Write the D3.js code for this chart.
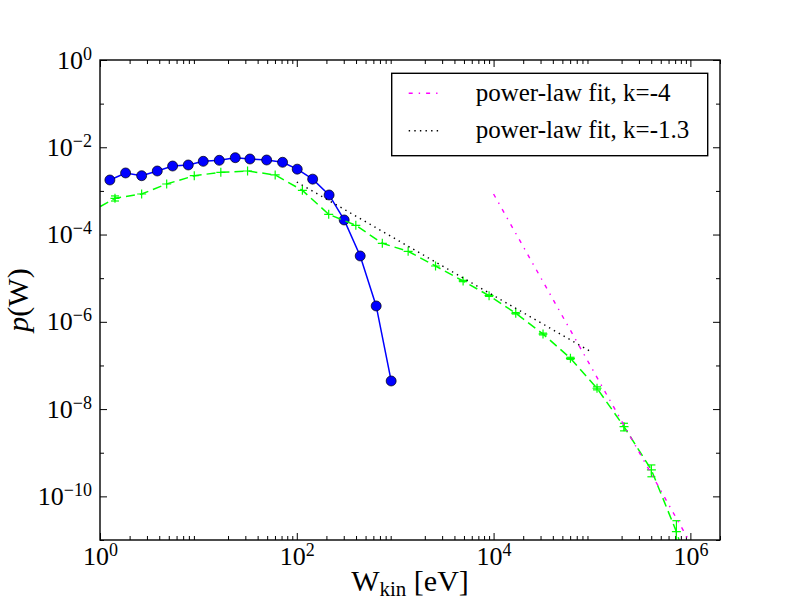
<!DOCTYPE html>
<html>
<head>
<meta charset="utf-8">
<script src="https://cdnjs.cloudflare.com/ajax/libs/d3/7.8.5/d3.min.js"></script>
<style>
body { margin: 0; background: #fff; }
text { font-family: "Liberation Serif", "DejaVu Serif", serif; fill: #000; }
</style>
</head>
<body>
<div id="chart-area"></div>
<script>
// blue curve (circles)
var blueW = [1.26, 1.82, 2.65, 3.82, 5.47, 7.89, 11.2, 16.3, 23.7, 33.4, 49.4, 71.7, 101, 145, 213, 303, 441, 641, 910];
var blueP = [1.78e-3, 2.58e-3, 2.23e-3, 2.86e-3, 3.72e-3, 3.93e-3, 4.77e-3, 5.03e-3, 5.77e-3, 5.39e-3, 5.11e-3, 4.53e-3,
	3.15e-3, 1.86e-3, 8.07e-4, 2.16e-4, 3.23e-5, 2.31e-6, 4.41e-8];

// green curve (+ markers, error bars)
var greenW = [0.757, 1.42, 2.65, 4.76, 9.08, 16.9, 31.6, 60.3, 114, 211, 398, 740, 1354, 2570, 4900, 9000,
	16800, 31800, 60400, 112500, 211700, 401600, 721000, 1360000];
var greenP = [3.05e-4, 6.77e-4, 8.5e-4, 1.44e-3, 2.23e-3, 2.67e-3, 2.86e-3, 2.32e-3, 1.03e-3, 2.91e-4, 1.63e-4, 6.3e-5,
	4.13e-5, 1.90e-5, 8.62e-6, 3.97e-6, 1.57e-6, 5.26e-7, 1.46e-7, 3.0e-8, 3.95e-9, 4.03e-10, 1.55e-11, 1.9e-13];
var greenErr = [0, 9e-5, 0, 0, 0, 0, 0, 0, 0, 0, 0, 0,
	0, 0, 3e-7, 1.5e-7, 6e-8, 2.5e-8, 8e-9, 2.4e-9, 7.8e-10, 1.22e-10, 1.22e-11, 0];

// power-law fits (end points)
var fit4W = [1e4, 1e6];
var fit4P = [8.5e-4, 8.5e-12];
var fit13W = [100, 1e5];
var fit13P = [1.6e-3, 2.0e-7];

var legendLabels = ["power-law fit, k=-4", "power-law fit, k=-1.3"];

var xMajor = [1, 1e2, 1e4, 1e6];
var xExp = ["0", "2", "4", "6"];
var yMajor = [1, 1e-2, 1e-4, 1e-6, 1e-8, 1e-10];
var yExp = ["0", "\u22122", "\u22124", "\u22126", "\u22128", "\u221210"];

var margin = { top: 60, right: 80, bottom: 60, left: 100 };
var width = 800 - margin.left - margin.right,
	height = 600 - margin.top - margin.bottom;

var svg = d3.select("#chart-area")
	.append("svg")
		.attr("width", 800)
		.attr("height", 600);

var g = svg.append("g")
	.attr("transform", "translate(" + margin.left + ", " + margin.top + ")");

var x = d3.scaleLog().domain([1, 2e6]).range([0, width]);
var y = d3.scaleLog().domain([1e-11, 1]).range([height, 0]);

// minor ticks
var xMinor = [];
for (var e = 0; e <= 6; e++) {
	for (var s = 2; s <= 9; s++) {
		if (s * Math.pow(10, e) <= 2e6) xMinor.push(s * Math.pow(10, e));
	}
}
var yMinor = [1e-1, 1e-3, 1e-5, 1e-7, 1e-9, 1e-11];

svg.append("clipPath")
	.attr("id", "clip")
	.append("rect")
		.attr("width", width)
		.attr("height", height);

function axisStyle(sel) {
	sel.select(".domain").remove();
	sel.selectAll("line").attr("stroke", "#000").attr("stroke-width", 1);
}

g.append("g").attr("transform", "translate(0," + height + ")")
	.call(d3.axisBottom(x).tickValues(xMinor).tickSize(-4).tickFormat(""))
	.call(axisStyle);
g.append("g")
	.call(d3.axisTop(x).tickValues(xMinor).tickSize(-4).tickFormat(""))
	.call(axisStyle);
g.append("g")
	.call(d3.axisLeft(y).tickValues(yMinor).tickSize(-4).tickFormat(""))
	.call(axisStyle);
g.append("g").attr("transform", "translate(" + width + ",0)")
	.call(d3.axisRight(y).tickValues(yMinor).tickSize(-4).tickFormat(""))
	.call(axisStyle);

var xAxis = g.append("g").attr("transform", "translate(0," + height + ")")
	.call(d3.axisBottom(x).tickValues(xMajor).tickSize(-7).tickFormat(""))
	.call(axisStyle);
g.append("g")
	.call(d3.axisTop(x).tickValues(xMajor).tickSize(-7).tickFormat(""))
	.call(axisStyle);
var yAxis = g.append("g")
	.call(d3.axisLeft(y).tickValues(yMajor).tickSize(-7).tickFormat(""))
	.call(axisStyle);
g.append("g").attr("transform", "translate(" + width + ",0)")
	.call(d3.axisRight(y).tickValues(yMajor).tickSize(-7).tickFormat(""))
	.call(axisStyle);

// tick labels as 10^n
xAxis.selectAll(".tick text").remove();
xAxis.selectAll(".tick").each(function(d, i) {
	var t = d3.select(this).append("text")
		.attr("y", 25)
		.attr("text-anchor", "middle")
		.attr("font-size", "26px")
		.attr("fill", "#000");
	t.append("tspan").text("10");
	t.append("tspan").attr("dy", -9).attr("font-size", "18px").text(xExp[i]);
});

yAxis.selectAll(".tick text").remove();
yAxis.selectAll(".tick").each(function(d, i) {
	var t = d3.select(this).append("text")
		.attr("x", -8)
		.attr("y", 8)
		.attr("text-anchor", "end")
		.attr("font-size", "26px")
		.attr("fill", "#000");
	t.append("tspan").text("10");
	t.append("tspan").attr("dy", -9).attr("font-size", "18px").text(yExp[i]);
});

var plot = g.append("g").attr("clip-path", "url(#clip)");

var line = d3.line()
	.x(function(d) { return x(d[0]); })
	.y(function(d) { return y(d[1]); });

// blue
var blueData = d3.zip(blueW, blueP);
plot.append("path")
	.attr("fill", "none")
	.attr("stroke", "#0000ff")
	.attr("stroke-width", 1.5)
	.attr("d", line(blueData));

plot.selectAll(".dot")
	.data(blueData)
	.enter()
	.append("circle")
		.attr("class", "dot")
		.attr("cx", function(d) { return x(d[0]); })
		.attr("cy", function(d) { return y(d[1]); })
		.attr("r", 5)
		.attr("fill", "#0000ff")
		.attr("stroke", "#000")
		.attr("stroke-width", 0.7);

// green
var greenData = d3.zip(greenW, greenP, greenErr);
plot.append("path")
	.attr("fill", "none")
	.attr("stroke", "#00ff00")
	.attr("stroke-width", 1.5)
	.attr("stroke-dasharray", "9,5")
	.attr("d", line(greenData));

var errs = plot.selectAll(".err")
	.data(greenData.filter(function(d) { return d[2] > 0; }))
	.enter()
	.append("g")
		.attr("class", "err")
		.attr("stroke", "#00ff00")
		.attr("stroke-width", 1.2);

function lowP(d) { return Math.max(d[1] - d[2], 1e-14); }

errs.append("line")
	.attr("x1", function(d) { return x(d[0]); })
	.attr("x2", function(d) { return x(d[0]); })
	.attr("y1", function(d) { return y(d[1] + d[2]); })
	.attr("y2", function(d) { return y(lowP(d)); });
errs.append("line")
	.attr("x1", function(d) { return x(d[0]) - 4; })
	.attr("x2", function(d) { return x(d[0]) + 4; })
	.attr("y1", function(d) { return y(d[1] + d[2]); })
	.attr("y2", function(d) { return y(d[1] + d[2]); });
errs.append("line")
	.attr("x1", function(d) { return x(d[0]) - 4; })
	.attr("x2", function(d) { return x(d[0]) + 4; })
	.attr("y1", function(d) { return y(lowP(d)); })
	.attr("y2", function(d) { return y(lowP(d)); });

plot.selectAll(".plus")
	.data(greenData)
	.enter()
	.append("path")
		.attr("class", "plus")
		.attr("transform", function(d) { return "translate(" + x(d[0]) + "," + y(d[1]) + ")"; })
		.attr("d", "M-4.5,0H4.5M0,-4.5V4.5")
		.attr("stroke", "#00ff00")
		.attr("stroke-width", 1.2);

// fits
plot.append("path")
	.attr("fill", "none")
	.attr("stroke", "#ff00ff")
	.attr("stroke-width", 1.4)
	.attr("stroke-dasharray", "4,6,1.4,6")
	.attr("d", line(d3.zip(fit4W, fit4P)));

plot.append("path")
	.attr("fill", "none")
	.attr("stroke", "#000")
	.attr("stroke-width", 1.4)
	.attr("stroke-dasharray", "1.4,4.2")
	.attr("d", line(d3.zip(fit13W, fit13P)));

// frame
g.append("rect")
	.attr("width", width)
	.attr("height", height)
	.attr("fill", "none")
	.attr("stroke", "#000")
	.attr("stroke-width", 1.4);

// legend
var legend = g.append("g")
	.attr("transform", "translate(" + (391.7 - margin.left) + "," + (73.3 - margin.top) + ")");

legend.append("rect")
	.attr("width", 316)
	.attr("height", 82.4)
	.attr("fill", "#fff")
	.attr("stroke", "#000")
	.attr("stroke-width", 1.4);

var legStyles = [
	{ color: "#ff00ff", dash: "4,6,1.4,6" },
	{ color: "#000", dash: "1.4,4.2" }
];

legendLabels.forEach(function(lab, i) {
	var ly = 20 + i * 37.4;
	legend.append("line")
		.attr("x1", 17).attr("x2", 50)
		.attr("y1", ly).attr("y2", ly)
		.attr("stroke", legStyles[i].color)
		.attr("stroke-width", 1.4)
		.attr("stroke-dasharray", legStyles[i].dash);
	legend.append("text")
		.attr("x", 84)
		.attr("y", ly + 7.5)
		.attr("font-size", "25px")
		.text(lab);
});

// axis labels
var xl = svg.append("text")
	.attr("x", margin.left + width / 2)
	.attr("y", 591)
	.attr("text-anchor", "middle")
	.attr("font-size", "30px");
xl.append("tspan").text("W");
xl.append("tspan").attr("dy", 5).attr("font-size", "21px").text("kin");
xl.append("tspan").attr("dy", -5).text(" [eV]");

var yl = svg.append("text")
	.attr("transform", "translate(28," + (margin.top + height / 2) + ") rotate(-90)")
	.attr("text-anchor", "middle")
	.attr("font-size", "30px");
yl.append("tspan").attr("font-style", "italic").text("p");
yl.append("tspan").text("(W)");
</script>
</body>
</html>
